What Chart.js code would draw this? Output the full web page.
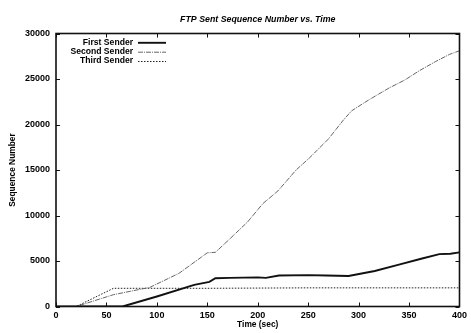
<!DOCTYPE html>
<html>
<head>
<meta charset="utf-8">
<script src="https://cdn.jsdelivr.net/npm/chart.js@4/dist/chart.umd.min.js"></script>
<style>
  html, body { margin: 0; padding: 0; background: #fff; }
  #wrap { width: 471px; height: 333px; position: relative; }
</style>
</head>
<body>
<div id="wrap"><canvas id="c" width="471" height="333"></canvas></div>
<script>
// Sequence numbers sent by each FTP sender over time (seconds)
const firstTime  = [0, 66, 100, 137, 152, 158, 172, 200, 208, 221, 250, 268, 290, 316, 340, 362, 380, 391, 400];
const firstSeq   = [0, 0, 1100, 2370, 2700, 3100, 3150, 3200, 3150, 3400, 3450, 3400, 3350, 3900, 4600, 5250, 5750, 5800, 5950];

const secondTime = [0, 20, 57, 93, 122, 150, 158, 172, 190, 205, 220, 238, 251, 270, 285, 293, 310, 330, 346, 360, 376, 390, 400];
const secondSeq  = [0, 0, 1300, 2100, 3650, 5900, 5950, 7400, 9300, 11300, 12700, 15000, 16300, 18400, 20500, 21500, 22700, 24000, 24900, 25900, 26900, 27700, 28100];

const thirdTime  = [0, 20, 57, 150, 250, 400];
const thirdSeq   = [0, 0, 2000, 2000, 2050, 2050];

const seriesNames = ['First Sender', 'Second Sender', 'Third Sender'];
const xTicks = [0, 50, 100, 150, 200, 250, 300, 350, 400];
const yTicks = [0, 5000, 10000, 15000, 20000, 25000, 30000];

const titleText = 'FTP Sent Sequence Number vs. Time';
const xTitle = 'Time (sec)';
const yTitle = 'Sequence Number';

const FONT = "'Liberation Sans', Arial, sans-serif";

function points(ts, vs) { return ts.map((t, i) => ({ x: t, y: vs[i] })); }

// Frame, inward tick marks, title, axis titles and key
const decor = {
  id: 'decor',
  afterDatasetsDraw(chart) {
    const { ctx, chartArea: a, scales: { x, y } } = chart;
    ctx.save();
    ctx.strokeStyle = '#111';
    // inward ticks on all four sides
    ctx.lineWidth = 1;
    ctx.beginPath();
    xTicks.forEach(v => {
      const px = Math.round(x.getPixelForValue(v)) + 0.5;
      ctx.moveTo(px, a.bottom); ctx.lineTo(px, a.bottom - 4);
      ctx.moveTo(px, a.top); ctx.lineTo(px, a.top + 4);
    });
    yTicks.forEach(v => {
      const py = Math.round(y.getPixelForValue(v)) + 0.5;
      ctx.moveTo(a.left, py); ctx.lineTo(a.left + 4, py);
      ctx.moveTo(a.right, py); ctx.lineTo(a.right - 4, py);
    });
    ctx.stroke();
    // frame
    ctx.lineWidth = 1.6;
    ctx.strokeRect(a.left, a.top, a.right - a.left, a.bottom - a.top);

    ctx.fillStyle = '#000';
    // title
    ctx.font = 'italic bold 8.8px ' + FONT;
    ctx.textAlign = 'center';
    ctx.textBaseline = 'middle';
    ctx.fillText(titleText, (a.left + a.right) / 2, 19.5);
    // x title
    ctx.font = 'bold 8.4px ' + FONT;
    ctx.fillText(xTitle, (a.left + a.right) / 2, 325);
    // y title
    ctx.save();
    ctx.translate(12.5, (a.top + a.bottom) / 2);
    ctx.rotate(-Math.PI / 2);
    ctx.fillText(yTitle, 0, 0);
    ctx.restore();

    // key: right-aligned names with line samples to the right
    ctx.font = 'bold 8.6px ' + FONT;
    ctx.textAlign = 'right';
    const rows = [42.3, 51.7, 61];
    chart.data.datasets.forEach((ds, i) => {
      const ry = rows[i];
      ctx.fillStyle = '#000';
      ctx.fillText(ds.label, 133, ry);
      ctx.save();
      ctx.strokeStyle = ds.borderColor;
      ctx.lineWidth = ds.borderWidth;
      ctx.setLineDash(ds.borderDash || []);
      ctx.beginPath();
      ctx.moveTo(138, ry + 0.5);
      ctx.lineTo(166, ry + 0.5);
      ctx.stroke();
      ctx.restore();
    });
    ctx.restore();
  }
};

new Chart(document.getElementById('c'), {
  type: 'line',
  data: {
    datasets: [
      { label: seriesNames[0], data: points(firstTime, firstSeq),
        borderColor: '#111', borderWidth: 1.9, borderDash: [] },
      { label: seriesNames[1], data: points(secondTime, secondSeq),
        borderColor: '#666', borderWidth: 1, borderDash: [5, 1, 1, 1] },
      { label: seriesNames[2], data: points(thirdTime, thirdSeq),
        borderColor: '#222', borderWidth: 1, borderDash: [1.5, 1.5] }
    ]
  },
  options: {
    responsive: false,
    animation: false,
    devicePixelRatio: 1,
    layout: { padding: { left: 0, right: 9, top: 33.5, bottom: 0 } },
    elements: { point: { radius: 0 }, line: { tension: 0, fill: false } },
    plugins: { legend: { display: false }, title: { display: false }, tooltip: { enabled: false } },
    scales: {
      x: {
        type: 'linear', min: 0, max: 400,
        afterBuildTicks: s => { s.ticks = xTicks.map(v => ({ value: v })); },
        afterFit: s => { s.height = 26.5; },
        grid: { display: false, drawTicks: false },
        border: { display: false },
        ticks: { color: '#000', font: { family: FONT, size: 9, weight: 'bold' }, padding: 4, maxRotation: 0 }
      },
      y: {
        type: 'linear', min: 0, max: 30000,
        afterBuildTicks: s => { s.ticks = yTicks.map(v => ({ value: v })); },
        afterFit: s => { s.width = 56; },
        grid: { display: false, drawTicks: false },
        border: { display: false },
        ticks: { color: '#000', font: { family: FONT, size: 9, weight: 'bold' }, padding: 6,
                 callback: v => String(v) }
      }
    }
  },
  plugins: [decor]
});
</script>
</body>
</html>
